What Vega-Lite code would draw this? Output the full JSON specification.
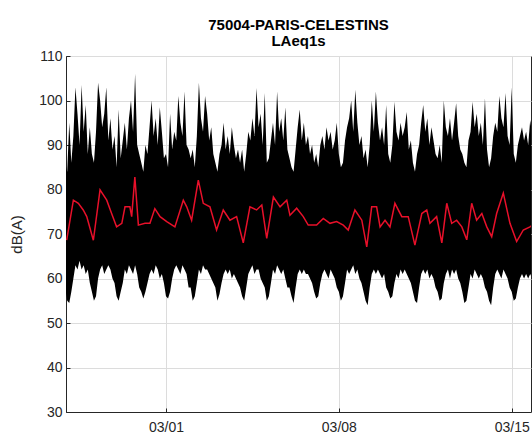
{
  "$schema": "https://vega.github.io/schema/vega-lite/v6.json",
  "width": 465,
  "height": 356,
  "autosize": {"type": "none"},
  "padding": {"left": 66, "top": 56, "right": 1, "bottom": 25},
  "background": "white",
  "config": {
    "view": {"stroke": "#262626", "strokeWidth": 1},
    "font": "Liberation Sans",
    "axis": {
      "labelFont": "Liberation Sans",
      "labelFontSize": 14,
      "labelColor": "#262626",
      "titleFont": "Liberation Sans",
      "titleColor": "#262626",
      "domainColor": "#262626",
      "tickColor": "#262626",
      "gridColor": "#dcdcdc",
      "gridWidth": 1
    }
  },
  "title": {
    "text": ["75004-PARIS-CELESTINS", "LAeq1s"],
    "font": "Liberation Sans",
    "fontSize": 15,
    "fontWeight": "bold",
    "color": "#000000",
    "anchor": "middle",
    "baseline": "alphabetic",
    "lineHeight": 16,
    "offset": -12
  },
  "datasets": {
    "band": [
      {"t":"2019-02-24T22:00","lo":58,"hi":86},
      {"t":"2019-02-25T00:00","lo":55,"hi":84},{"t":"2019-02-25T02:00","lo":54.5,"hi":95},{"t":"2019-02-25T04:00","lo":57,"hi":86},{"t":"2019-02-25T06:00","lo":60,"hi":92},{"t":"2019-02-25T08:00","lo":63,"hi":103},{"t":"2019-02-25T10:00","lo":62,"hi":97},{"t":"2019-02-25T12:00","lo":64,"hi":90},{"t":"2019-02-25T14:00","lo":62,"hi":103.5},{"t":"2019-02-25T16:00","lo":63,"hi":93},{"t":"2019-02-25T18:00","lo":61,"hi":99},{"t":"2019-02-25T20:00","lo":62,"hi":88},{"t":"2019-02-25T22:00","lo":59,"hi":94},
      {"t":"2019-02-26T00:00","lo":57,"hi":88},{"t":"2019-02-26T02:00","lo":55,"hi":86},{"t":"2019-02-26T04:00","lo":56,"hi":93},{"t":"2019-02-26T06:00","lo":60,"hi":104},{"t":"2019-02-26T08:00","lo":62,"hi":100},{"t":"2019-02-26T10:00","lo":63,"hi":94},{"t":"2019-02-26T12:00","lo":61,"hi":97},{"t":"2019-02-26T14:00","lo":62,"hi":103},{"t":"2019-02-26T16:00","lo":63,"hi":91},{"t":"2019-02-26T18:00","lo":62,"hi":96},{"t":"2019-02-26T20:00","lo":60,"hi":89},{"t":"2019-02-26T22:00","lo":59,"hi":92},
      {"t":"2019-02-27T00:00","lo":56,"hi":85},{"t":"2019-02-27T02:00","lo":55,"hi":98},{"t":"2019-02-27T04:00","lo":57,"hi":87},{"t":"2019-02-27T06:00","lo":59,"hi":91},{"t":"2019-02-27T08:00","lo":62,"hi":95},{"t":"2019-02-27T10:00","lo":61,"hi":89},{"t":"2019-02-27T12:00","lo":63,"hi":96},{"t":"2019-02-27T14:00","lo":62,"hi":100},{"t":"2019-02-27T16:00","lo":61,"hi":93},{"t":"2019-02-27T18:00","lo":63,"hi":106},{"t":"2019-02-27T20:00","lo":61,"hi":90},{"t":"2019-02-27T22:00","lo":58,"hi":88},
      {"t":"2019-02-28T00:00","lo":57,"hi":86},{"t":"2019-02-28T02:00","lo":55.5,"hi":84},{"t":"2019-02-28T04:00","lo":57,"hi":90},{"t":"2019-02-28T06:00","lo":59,"hi":88},{"t":"2019-02-28T08:00","lo":61,"hi":94},{"t":"2019-02-28T10:00","lo":62,"hi":100},{"t":"2019-02-28T12:00","lo":61,"hi":92},{"t":"2019-02-28T14:00","lo":63,"hi":96},{"t":"2019-02-28T16:00","lo":62,"hi":90},{"t":"2019-02-28T18:00","lo":60,"hi":98.5},{"t":"2019-02-28T20:00","lo":61,"hi":93},{"t":"2019-02-28T22:00","lo":59,"hi":87},
      {"t":"2019-03-01T00:00","lo":56,"hi":88},{"t":"2019-03-01T02:00","lo":55.5,"hi":85},{"t":"2019-03-01T04:00","lo":57,"hi":97},{"t":"2019-03-01T06:00","lo":60,"hi":89},{"t":"2019-03-01T08:00","lo":62,"hi":93},{"t":"2019-03-01T10:00","lo":63,"hi":91},{"t":"2019-03-01T12:00","lo":62,"hi":101},{"t":"2019-03-01T14:00","lo":61,"hi":95},{"t":"2019-03-01T16:00","lo":63,"hi":92},{"t":"2019-03-01T18:00","lo":62,"hi":102},{"t":"2019-03-01T20:00","lo":61,"hi":90},{"t":"2019-03-01T22:00","lo":58,"hi":89},
      {"t":"2019-03-02T00:00","lo":58,"hi":87},{"t":"2019-03-02T02:00","lo":55,"hi":89},{"t":"2019-03-02T04:00","lo":56,"hi":85},{"t":"2019-03-02T06:00","lo":59,"hi":92},{"t":"2019-03-02T08:00","lo":62,"hi":104},{"t":"2019-03-02T10:00","lo":61,"hi":96},{"t":"2019-03-02T12:00","lo":63,"hi":93},{"t":"2019-03-02T14:00","lo":62,"hi":101},{"t":"2019-03-02T16:00","lo":62,"hi":97},{"t":"2019-03-02T18:00","lo":61,"hi":91},{"t":"2019-03-02T20:00","lo":60,"hi":94},{"t":"2019-03-02T22:00","lo":59,"hi":88},
      {"t":"2019-03-03T00:00","lo":58,"hi":86},{"t":"2019-03-03T02:00","lo":55,"hi":84},{"t":"2019-03-03T04:00","lo":56.5,"hi":88},{"t":"2019-03-03T06:00","lo":59,"hi":90},{"t":"2019-03-03T08:00","lo":61,"hi":95},{"t":"2019-03-03T10:00","lo":62,"hi":89},{"t":"2019-03-03T12:00","lo":61,"hi":92},{"t":"2019-03-03T14:00","lo":62,"hi":88},{"t":"2019-03-03T16:00","lo":60,"hi":94},{"t":"2019-03-03T18:00","lo":61,"hi":90},{"t":"2019-03-03T20:00","lo":60,"hi":87},{"t":"2019-03-03T22:00","lo":59,"hi":89},
      {"t":"2019-03-04T00:00","lo":58,"hi":86},{"t":"2019-03-04T02:00","lo":56,"hi":89},{"t":"2019-03-04T04:00","lo":55,"hi":84},{"t":"2019-03-04T06:00","lo":58,"hi":88},{"t":"2019-03-04T08:00","lo":61,"hi":93},{"t":"2019-03-04T10:00","lo":62,"hi":91},{"t":"2019-03-04T12:00","lo":63,"hi":96},{"t":"2019-03-04T14:00","lo":61,"hi":92},{"t":"2019-03-04T16:00","lo":62,"hi":102.8},{"t":"2019-03-04T18:00","lo":62,"hi":94},{"t":"2019-03-04T20:00","lo":60,"hi":97},{"t":"2019-03-04T22:00","lo":59,"hi":90},
      {"t":"2019-03-05T00:00","lo":58,"hi":101.7},{"t":"2019-03-05T02:00","lo":55,"hi":86},{"t":"2019-03-05T04:00","lo":56,"hi":87},{"t":"2019-03-05T06:00","lo":59,"hi":91},{"t":"2019-03-05T08:00","lo":62,"hi":95},{"t":"2019-03-05T10:00","lo":61,"hi":90},{"t":"2019-03-05T12:00","lo":63,"hi":102},{"t":"2019-03-05T14:00","lo":62,"hi":93},{"t":"2019-03-05T16:00","lo":61,"hi":96},{"t":"2019-03-05T18:00","lo":62,"hi":91},{"t":"2019-03-05T20:00","lo":60,"hi":98.5},{"t":"2019-03-05T22:00","lo":58,"hi":89},
      {"t":"2019-03-06T00:00","lo":58,"hi":87},{"t":"2019-03-06T02:00","lo":56,"hi":85},{"t":"2019-03-06T04:00","lo":54.5,"hi":84},{"t":"2019-03-06T06:00","lo":58,"hi":89},{"t":"2019-03-06T08:00","lo":61,"hi":94},{"t":"2019-03-06T10:00","lo":62,"hi":98},{"t":"2019-03-06T12:00","lo":61,"hi":91},{"t":"2019-03-06T14:00","lo":62,"hi":95},{"t":"2019-03-06T16:00","lo":61,"hi":90},{"t":"2019-03-06T18:00","lo":61,"hi":92},{"t":"2019-03-06T20:00","lo":60,"hi":88},{"t":"2019-03-06T22:00","lo":59,"hi":90},
      {"t":"2019-03-07T00:00","lo":57,"hi":86},{"t":"2019-03-07T02:00","lo":55.5,"hi":88},{"t":"2019-03-07T04:00","lo":56,"hi":85},{"t":"2019-03-07T06:00","lo":59,"hi":90},{"t":"2019-03-07T08:00","lo":61,"hi":92},{"t":"2019-03-07T10:00","lo":62,"hi":89},{"t":"2019-03-07T12:00","lo":61,"hi":94},{"t":"2019-03-07T14:00","lo":60,"hi":91},{"t":"2019-03-07T16:00","lo":62,"hi":93},{"t":"2019-03-07T18:00","lo":61,"hi":89},{"t":"2019-03-07T20:00","lo":60,"hi":91},{"t":"2019-03-07T22:00","lo":58,"hi":95},
      {"t":"2019-03-08T00:00","lo":57,"hi":88},{"t":"2019-03-08T02:00","lo":55,"hi":85},{"t":"2019-03-08T04:00","lo":56,"hi":86},{"t":"2019-03-08T06:00","lo":59,"hi":91},{"t":"2019-03-08T08:00","lo":62,"hi":94},{"t":"2019-03-08T10:00","lo":61,"hi":96},{"t":"2019-03-08T12:00","lo":62,"hi":100},{"t":"2019-03-08T14:00","lo":63,"hi":93},{"t":"2019-03-08T16:00","lo":61,"hi":102.4},{"t":"2019-03-08T18:00","lo":62,"hi":95},{"t":"2019-03-08T20:00","lo":60,"hi":90},{"t":"2019-03-08T22:00","lo":59,"hi":92},
      {"t":"2019-03-09T00:00","lo":57,"hi":87},{"t":"2019-03-09T02:00","lo":55,"hi":89},{"t":"2019-03-09T04:00","lo":54,"hi":85},{"t":"2019-03-09T06:00","lo":58,"hi":90},{"t":"2019-03-09T08:00","lo":61,"hi":100},{"t":"2019-03-09T10:00","lo":62,"hi":93},{"t":"2019-03-09T12:00","lo":61,"hi":102},{"t":"2019-03-09T14:00","lo":62,"hi":95},{"t":"2019-03-09T16:00","lo":61,"hi":91},{"t":"2019-03-09T18:00","lo":60,"hi":94},{"t":"2019-03-09T20:00","lo":61,"hi":90},{"t":"2019-03-09T22:00","lo":58,"hi":99},
      {"t":"2019-03-10T00:00","lo":57,"hi":88},{"t":"2019-03-10T02:00","lo":55.5,"hi":86},{"t":"2019-03-10T04:00","lo":56,"hi":90},{"t":"2019-03-10T06:00","lo":59,"hi":99.7},{"t":"2019-03-10T08:00","lo":61,"hi":93},{"t":"2019-03-10T10:00","lo":60,"hi":91},{"t":"2019-03-10T12:00","lo":62,"hi":95},{"t":"2019-03-10T14:00","lo":61,"hi":92},{"t":"2019-03-10T16:00","lo":62,"hi":94},{"t":"2019-03-10T18:00","lo":61,"hi":97.4},{"t":"2019-03-10T20:00","lo":60,"hi":89},{"t":"2019-03-10T22:00","lo":59,"hi":91},
      {"t":"2019-03-11T00:00","lo":57,"hi":86},{"t":"2019-03-11T02:00","lo":55,"hi":84},{"t":"2019-03-11T04:00","lo":54.5,"hi":88},{"t":"2019-03-11T06:00","lo":58,"hi":90},{"t":"2019-03-11T08:00","lo":61,"hi":95},{"t":"2019-03-11T10:00","lo":62,"hi":99},{"t":"2019-03-11T12:00","lo":61,"hi":93},{"t":"2019-03-11T14:00","lo":62,"hi":96},{"t":"2019-03-11T16:00","lo":60,"hi":90},{"t":"2019-03-11T18:00","lo":61,"hi":94},{"t":"2019-03-11T20:00","lo":60,"hi":91},{"t":"2019-03-11T22:00","lo":58,"hi":88},
      {"t":"2019-03-12T00:00","lo":57,"hi":87},{"t":"2019-03-12T02:00","lo":55,"hi":90},{"t":"2019-03-12T04:00","lo":55.5,"hi":86},{"t":"2019-03-12T06:00","lo":59,"hi":100},{"t":"2019-03-12T08:00","lo":61,"hi":94},{"t":"2019-03-12T10:00","lo":62,"hi":92},{"t":"2019-03-12T12:00","lo":60,"hi":96},{"t":"2019-03-12T14:00","lo":62,"hi":91},{"t":"2019-03-12T16:00","lo":61,"hi":95},{"t":"2019-03-12T18:00","lo":62,"hi":99.4},{"t":"2019-03-12T20:00","lo":60,"hi":92},{"t":"2019-03-12T22:00","lo":59,"hi":89},
      {"t":"2019-03-13T00:00","lo":57,"hi":88},{"t":"2019-03-13T02:00","lo":54.5,"hi":86},{"t":"2019-03-13T04:00","lo":55,"hi":85},{"t":"2019-03-13T06:00","lo":58,"hi":91},{"t":"2019-03-13T08:00","lo":61,"hi":93},{"t":"2019-03-13T10:00","lo":60,"hi":99.7},{"t":"2019-03-13T12:00","lo":62,"hi":94},{"t":"2019-03-13T14:00","lo":61,"hi":97},{"t":"2019-03-13T16:00","lo":60,"hi":92},{"t":"2019-03-13T18:00","lo":61,"hi":95},{"t":"2019-03-13T20:00","lo":60,"hi":90},{"t":"2019-03-13T22:00","lo":58,"hi":100.5},
      {"t":"2019-03-14T00:00","lo":57,"hi":89},{"t":"2019-03-14T02:00","lo":55,"hi":85},{"t":"2019-03-14T04:00","lo":54,"hi":87},{"t":"2019-03-14T06:00","lo":58,"hi":92},{"t":"2019-03-14T08:00","lo":61,"hi":95},{"t":"2019-03-14T10:00","lo":62,"hi":93},{"t":"2019-03-14T12:00","lo":61,"hi":101},{"t":"2019-03-14T14:00","lo":60,"hi":96},{"t":"2019-03-14T16:00","lo":62,"hi":94},{"t":"2019-03-14T18:00","lo":61,"hi":101.7},{"t":"2019-03-14T20:00","lo":60,"hi":92},{"t":"2019-03-14T22:00","lo":58,"hi":90},
      {"t":"2019-03-15T00:00","lo":57,"hi":103},{"t":"2019-03-15T02:00","lo":55,"hi":88},{"t":"2019-03-15T04:00","lo":55.5,"hi":86},{"t":"2019-03-15T06:00","lo":58,"hi":90},{"t":"2019-03-15T08:00","lo":60,"hi":92},{"t":"2019-03-15T10:00","lo":61,"hi":94},{"t":"2019-03-15T12:00","lo":60,"hi":91},{"t":"2019-03-15T14:00","lo":61,"hi":93},{"t":"2019-03-15T16:00","lo":60,"hi":90},{"t":"2019-03-15T18:00","lo":61,"hi":95.6},{"t":"2019-03-15T20:00","lo":60,"hi":92}
    ],
    "avg": [
      {"t":"2019-02-24T23:30","v":68.6},{"t":"2019-02-25T06:00","v":77.6},{"t":"2019-02-25T10:50","v":76.9},{"t":"2019-02-25T15:35","v":75.4},{"t":"2019-02-25T19:00","v":73.9},
      {"t":"2019-02-26T01:25","v":68.6},{"t":"2019-02-26T07:55","v":79.9},{"t":"2019-02-26T14:25","v":77.6},{"t":"2019-02-26T19:10","v":74.6},
      {"t":"2019-02-27T00:00","v":71.6},{"t":"2019-02-27T05:05","v":72.4},{"t":"2019-02-27T08:10","v":76.1},{"t":"2019-02-27T12:55","v":76.1},{"t":"2019-02-27T14:40","v":73.9},{"t":"2019-02-27T17:45","v":82.8},{"t":"2019-02-27T21:10","v":72.0},
      {"t":"2019-02-28T03:35","v":72.4},{"t":"2019-02-28T08:25","v":72.4},{"t":"2019-02-28T13:10","v":75.7},{"t":"2019-02-28T18:15","v":73.9},
      {"t":"2019-03-01T00:45","v":72.8},{"t":"2019-03-01T08:40","v":71.6},{"t":"2019-03-01T16:50","v":77.6},{"t":"2019-03-01T20:10","v":76.1},
      {"t":"2019-03-02T00:55","v":73.1},{"t":"2019-03-02T07:25","v":82.1},{"t":"2019-03-02T12:15","v":76.9},{"t":"2019-03-02T18:43","v":76.1},
      {"t":"2019-03-03T01:10","v":70.9},{"t":"2019-03-03T07:40","v":75.4},{"t":"2019-03-03T14:10","v":73.1},{"t":"2019-03-03T20:38","v":73.9},
      {"t":"2019-03-04T03:07","v":68.0},{"t":"2019-03-04T09:36","v":76.1},{"t":"2019-03-04T16:05","v":75.4},{"t":"2019-03-04T21:07","v":76.5},
      {"t":"2019-03-05T01:55","v":69.0},{"t":"2019-03-05T08:24","v":78.3},{"t":"2019-03-05T14:53","v":76.1},{"t":"2019-03-05T21:22","v":77.6},
      {"t":"2019-03-06T00:30","v":74.2},{"t":"2019-03-06T07:00","v":75.8},{"t":"2019-03-06T13:26","v":73.9},{"t":"2019-03-06T18:14","v":72.0},
      {"t":"2019-03-07T02:24","v":72.0},{"t":"2019-03-07T08:53","v":73.5},{"t":"2019-03-07T15:22","v":72.4},{"t":"2019-03-07T21:50","v":72.8},
      {"t":"2019-03-08T04:19","v":72.0},{"t":"2019-03-08T09:07","v":70.9},{"t":"2019-03-08T15:36","v":75.4},{"t":"2019-03-08T22:19","v":73.1},
      {"t":"2019-03-09T03:07","v":67.1},{"t":"2019-03-09T07:55","v":76.1},{"t":"2019-03-09T12:43","v":76.1},{"t":"2019-03-09T16:05","v":71.6},{"t":"2019-03-09T20:53","v":73.1},
      {"t":"2019-03-10T01:41","v":71.6},{"t":"2019-03-10T06:29","v":76.9},{"t":"2019-03-10T13:12","v":73.9},{"t":"2019-03-10T19:26","v":73.9},
      {"t":"2019-03-11T01:55","v":67.5},{"t":"2019-03-11T08:38","v":74.6},{"t":"2019-03-11T13:26","v":75.4},{"t":"2019-03-11T16:34","v":72.4},{"t":"2019-03-11T23:02","v":73.9},
      {"t":"2019-03-12T04:05","v":68.0},{"t":"2019-03-12T08:53","v":76.9},{"t":"2019-03-12T13:41","v":72.4},{"t":"2019-03-12T18:29","v":73.1},{"t":"2019-03-12T23:31","v":71.6},
      {"t":"2019-03-13T04:19","v":68.7},{"t":"2019-03-13T09:07","v":76.9},{"t":"2019-03-13T13:55","v":73.1},{"t":"2019-03-13T18:58","v":74.6},{"t":"2019-03-13T23:46","v":71.6},
      {"t":"2019-03-14T04:34","v":69.4},{"t":"2019-03-14T09:22","v":74.6},{"t":"2019-03-14T15:50","v":79.2},{"t":"2019-03-14T22:19","v":72.4},
      {"t":"2019-03-15T04:48","v":68.3},{"t":"2019-03-15T11:17","v":70.9},{"t":"2019-03-15T17:46","v":71.6},{"t":"2019-03-15T20:00","v":72.0}
    ]
  },
  "layer": [
    {
      "data": {"name": "band"},
      "mark": {"type": "area", "color": "#000000", "clip": true, "opacity": 1},
      "encoding": {
        "x": {
          "field": "t", "type": "temporal",
          "scale": {"domain": [{"year": 2019, "month": 2, "date": 24, "hours": 22, "minutes": 50}, {"year": 2019, "month": 3, "date": 15, "hours": 18, "minutes": 45}]},
          "axis": {
            "title": null,
            "values": [{"year": 2019, "month": 3, "date": 1}, {"year": 2019, "month": 3, "date": 8}, {"year": 2019, "month": 3, "date": 15}],
            "format": "%m/%d",
            "grid": true,
            "tickSize": -4,
            "labelPadding": 12,
            "labelFontSize": 14
          }
        },
        "y": {
          "field": "hi", "type": "quantitative",
          "scale": {"domain": [30, 110], "nice": false, "zero": false},
          "axis": {
            "title": "dB(A)",
            "titleFontSize": 15,
            "titleFontWeight": "normal",
            "titlePadding": 14,
            "values": [30, 40, 50, 60, 70, 80, 90, 100, 110],
            "grid": true,
            "tickSize": -4,
            "labelPadding": 8
          }
        },
        "y2": {"field": "lo"}
      }
    },
    {
      "data": {"name": "avg"},
      "mark": {"type": "line", "color": "#e8102a", "strokeWidth": 1.5, "clip": true},
      "encoding": {
        "x": {"field": "t", "type": "temporal"},
        "y": {"field": "v", "type": "quantitative"}
      }
    }
  ]
}
